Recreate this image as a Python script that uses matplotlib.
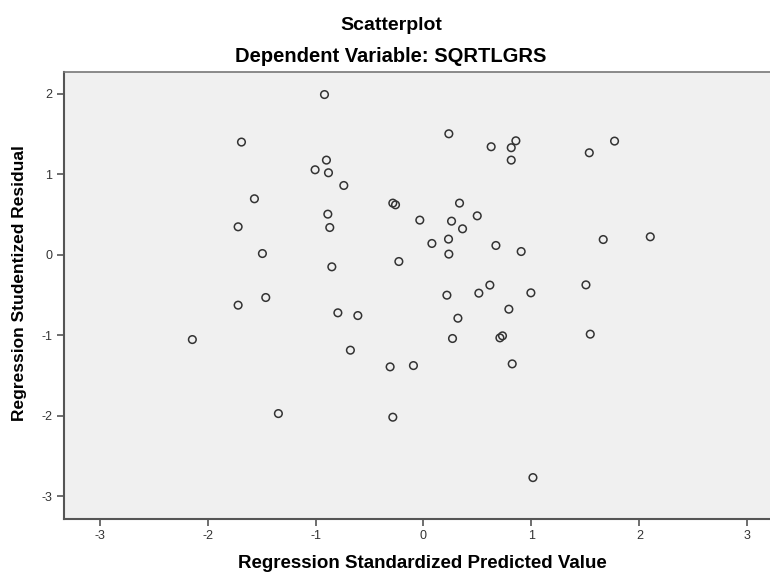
import matplotlib.pyplot as plt

# Regression Standardized Predicted Value
pred = [-1.686, -1.566, -1.717, -1.492, -1.717, -2.141, -0.917, 0.235, 0.627, 0.813,
        0.856, 0.813, -0.899, -1.004, -0.880, -0.738, -0.284, -0.259, 0.334, 0.498,
        -0.034, 0.260, 0.362, -0.886, -0.868, 0.232, 0.078, 0.671, 0.235, -0.849,
        -0.228, 0.615, 0.905, 1.536, 1.770, 1.665, 2.101, 1.505, -1.461, -0.793,
        -0.608, -0.677, -0.309, -0.093, -1.344, -0.284, 0.217, 0.513, 0.791, 0.319,
        0.269, 0.708, 0.732, 0.822, 0.995, 1.545, 1.014]
# Regression Studentized Residual
resid = [1.400, 0.696, 0.348, 0.016, -0.625, -1.052, 1.990, 1.503, 1.342, 1.330,
         1.416, 1.176, 1.176, 1.056, 1.019, 0.861, 0.642, 0.621, 0.642, 0.484,
         0.431, 0.418, 0.323, 0.505, 0.339, 0.195, 0.141, 0.116, 0.009, -0.149,
         -0.083, -0.376, 0.041, 1.267, 1.412, 0.190, 0.224, -0.373, -0.530, -0.720,
         -0.754, -1.184, -1.391, -1.375, -1.971, -2.016, -0.501, -0.476, -0.675, -0.787,
         -1.039, -1.031, -1.006, -1.354, -0.472, -0.985, -2.766]

xticks = [-3, -2, -1, 0, 1, 2, 3]
yticks = [-3, -2, -1, 0, 1, 2]

plt.rcParams['font.family'] = ['Liberation Sans', 'DejaVu Sans']
plt.rcParams['axes.unicode_minus'] = False

fig = plt.figure(figsize=(7.7, 5.73), dpi=100)
ax = fig.add_axes([64/770, 54/573, 1 - 64/770, 447/573])
ax.set_facecolor("#f0f0f0")
ax.scatter(pred, resid, s=30, facecolors="none", edgecolors="#333333", linewidths=1.1, zorder=3)
ax.set_xlim(-3.33, 3.21)
ax.set_ylim(-3.28, 2.27)
ax.set_xticks(xticks)
ax.set_yticks(yticks)
ax.tick_params(direction="out", length=5, width=1.2, color="#555555", labelcolor="#333333", labelsize=9)
ax.tick_params(axis="x", pad=3)
for s in ["left", "bottom"]:
    ax.spines[s].set_color("#555555")
    ax.spines[s].set_linewidth(1.5)
ax.spines["top"].set_color("#777777")
ax.spines["top"].set_linewidth(1.2)
ax.spines["right"].set_visible(False)

fig.text(391/770, 1 - 30/573, "Scatterplot", ha="center", va="baseline", fontsize=14, fontweight="bold")
fig.text(391/770, 1 - 61.5/573, "Dependent Variable: SQRTLGRS", ha="center", va="baseline", fontsize=14.5, fontweight="bold")
fig.text(422/770, 1 - 568/573, "Regression Standardized Predicted Value", ha="center", va="baseline", fontsize=13.5, fontweight="bold")
fig.text(20/770, 1 - 283/573, "Regression Studentized Residual", ha="center", va="center", rotation=90, fontsize=12.5, fontweight="bold")

fig.savefig("out.png", dpi=100)
